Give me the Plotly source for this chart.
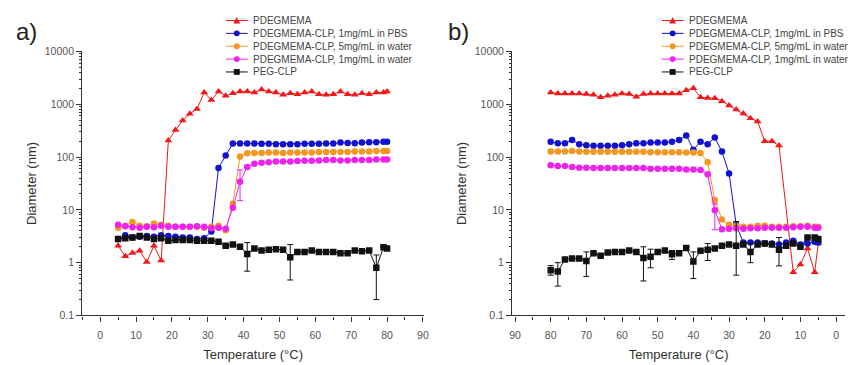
import plotly.graph_objects as go

# ---------------- data ----------------
temp_a = [5, 7, 9, 11, 13, 15, 17, 19, 21, 23, 25, 27, 29, 31, 33, 35, 37, 39, 41, 43,
          45, 47, 49, 51, 53, 55, 57, 59, 61, 63, 65, 67, 69, 71, 73, 75, 77, 79, 80]

pdegmema_a = [2.08, 1.33, 1.52, 1.68, 1.03, 2.08, 1.1, 205, 325, 490, 660, 815, 1670, 1200,
              1740, 1450, 1610, 1740, 1740, 1670, 1910, 1740, 1670, 1510, 1610, 1550, 1670,
              1740, 1550, 1510, 1550, 1740, 1550, 1510, 1610, 1550, 1670, 1670, 1740]
pbs1_a = [2.8, 3.3, 3.0, 3.1, 3.2, 3.1, 3.3, 3.2, 3.1, 3.0, 3.0, 2.8, 2.9, 3.9, 62, 107,
          180, 180, 180, 180, 178, 178, 175, 175, 175, 175, 178, 178, 178, 180, 180, 188,
          185, 183, 188, 190, 190, 195, 195]
water5_a = [4.6, 5.0, 5.9, 5.0, 4.9, 5.5, 5.2, 5.0, 4.8, 4.8, 4.8, 4.8, 4.6, 4.8, 5.0, 4.1,
            13, 103, 118, 120, 120, 122, 122, 120, 122, 122, 122, 122, 125, 125, 125, 125,
            125, 128, 128, 128, 130, 130, 130]
water1_a = [5.2, 4.9, 4.7, 4.6, 4.8, 4.7, 5.0, 4.8, 4.8, 4.8, 4.8, 4.9, 4.8, 4.5, 4.6, 4.4,
            11, 34, 65, 75, 78, 80, 82, 82, 82, 84, 85, 85, 86, 88, 88, 86, 86, 88, 88, 88,
            90, 90, 90]
pegclp_a = [2.8, 2.9, 3.0, 3.2, 3.0, 2.8, 2.9, 2.6, 2.7, 2.7, 2.7, 2.6, 2.6, 2.6, 2.5, 2.1,
            2.2, 2.0, 1.46, 1.86, 1.7, 1.75, 1.8, 1.75, 1.27, 1.6, 1.6, 1.7, 1.6, 1.6, 1.6,
            1.5, 1.5, 1.7, 1.65, 1.7, 0.8, 1.95, 1.85]
# error-bar bounds (upper / lower diameter), None = no bar
pegclp_a_hi = [None] * 18 + [2.4] + [None] * 5 + [2.2] + [None] * 11 + [1.4, None, None]
pegclp_a_lo = [None] * 18 + [0.69] + [None] * 5 + [0.47] + [None] * 11 + [0.2, None, None]
water1_a_hi = [None] * 17 + [57] + [None] * 21
water1_a_lo = [None] * 17 + [15] + [None] * 21

temp_b = [80, 78, 76, 74, 72, 70, 68, 66, 64, 62, 60, 58, 56, 54, 52, 50, 48, 46, 44, 42,
          40, 38, 36, 34, 32, 30, 28, 26, 24, 22, 20, 18, 16, 14, 12, 10, 8, 6, 5]

pdegmema_b = [1675, 1600, 1600, 1600, 1600, 1560, 1510, 1355, 1450, 1510, 1600, 1560, 1390,
              1560, 1600, 1600, 1600, 1600, 1600, 1845, 2000, 1355, 1316, 1300, 1145, 950,
              793, 670, 542, 471, 200, 200, 165, None, 0.66, 0.92, 1.86, 0.66, 2.3]
pbs1_b = [194, 183, 183, 211, 175, 168, 164, 164, 164, 164, 168, 175, 183, 183, 188, 188,
          188, 194, 211, 257, 138, 194, 175, 235, 127, 49, 5.2, 2.4, 2.4, 2.4, 2.3, 2.3, 2.2,
          2.4, 2.6, 2.2, 2.3, 2.5, 2.4]
water5_b = [128, 128, 128, 130, 128, 126, 126, 126, 126, 126, 126, 126, 126, 126, 124, 124,
            124, 124, 124, 122, 122, 120, 80, 15.4, 6.6, 5.2, 5.0, 4.8, 4.8, 5.0, 5.0, 4.8,
            4.8, 4.8, 4.9, 4.9, 5.0, 4.8, 4.8]
water1_b = [70, 68, 68, 65, 63, 63, 62, 62, 62, 62, 62, 62, 62, 62, 60, 60, 60, 60, 60, 58,
            58, 57, 47, 9.8, 4.3, 4.4, 4.5, 4.4, 4.5, 4.5, 4.6, 4.6, 4.6, 4.6, 4.7, 4.8, 4.8,
            4.6, 4.6]
pegclp_b = [0.72, 0.68, 1.15, 1.2, 1.2, 1.07, 1.5, 1.35, 1.55, 1.6, 1.6, 1.7, 1.6, 1.22, 1.3,
            1.6, 1.7, 1.45, 1.5, 1.9, 1.05, 1.68, 1.75, 1.85, 2.1, 2.2, 2.1, 2.2, 1.6, 2.2,
            2.3, 2.2, 1.75, 2.1, 2.3, 2.0, 3.0, 3.0, 2.8]
pegclp_b_hi = [0.88, 1.0, None, None, None, 1.6, None, None, None, None, None, None, None,
               2.0, 1.8, None, None, 1.7, None, None, 1.6, None, 2.3, None, None, None, 6.0,
               None, 2.3, None, None, None, 3.0, None, None, None, None, None, None]
pegclp_b_lo = [0.58, 0.36, None, None, None, 0.55, None, None, None, None, None, None, None,
               0.45, 0.8, None, None, 1.15, None, None, 0.5, None, 1.1, None, None, None,
               0.58, None, 1.0, None, None, None, 0.87, None, None, None, None, None, None]
water1_b_hi = [None] * 23 + [13] + [None] * 15
water1_b_lo = [None] * 23 + [4.2] + [None] * 15

series_names = ["PDEGMEMA", "PDEGMEMA-CLP, 1mg/mL in PBS", "PDEGMEMA-CLP, 5mg/mL in water",
                "PDEGMEMA-CLP, 1mg/mL in water", "PEG-CLP"]
y_tickvals = [0.1, 1, 10, 100, 1000, 10000]
y_ticktext = ["0.1", "1", "10", "100", "1000", "10000"]
panel_labels = ["a)", "b)"]

# ---------------- styling ----------------
colors = ["#f01818", "#1010d0", "#f5961e", "#f020f0", "#111111"]
symbols = ["triangle-up", "circle", "circle", "circle", "square"]
W, H = 850, 365
FONT = "Liberation Sans, Arial, sans-serif"


def err(vals, hi, lo):
    plus = [(h - v) if (h is not None and v is not None) else None for h, v in zip(hi, vals)]
    minus = [(v - l) if (l is not None and v is not None) else None for l, v in zip(lo, vals)]
    return dict(type="data", symmetric=False, array=plus, arrayminus=minus,
                thickness=1, width=3)


fig = go.Figure()
panels = [
    (temp_a, [pdegmema_a, pbs1_a, water5_a, water1_a, pegclp_a],
     [None, None, None, (water1_a_hi, water1_a_lo), (pegclp_a_hi, pegclp_a_lo)], "x", "y"),
    (temp_b, [pdegmema_b, pbs1_b, water5_b, water1_b, pegclp_b],
     [None, None, None, (water1_b_hi, water1_b_lo), (pegclp_b_hi, pegclp_b_lo)], "x2", "y2"),
]
for temps, ys, errs, xa, ya in panels:
    for i, (name, vals) in enumerate(zip(series_names, ys)):
        e = errs[i]
        ebar = err(vals, e[0], e[1]) if e else None
        if ebar:
            ebar["color"] = colors[i]
        fig.add_trace(go.Scatter(
            x=temps, y=vals, name=name, mode="lines+markers", xaxis=xa, yaxis=ya,
            showlegend=False, connectgaps=True,
            line=dict(color=colors[i], width=1),
            marker=dict(symbol=symbols[i], size=7 if i == 0 else 6.5, color=colors[i]),
            error_y=ebar,
        ))

# ---------------- compact custom legends (shapes + text) ----------------
def px(x):
    return x / W


def py(y):
    return 1 - y / H


shapes = []
annotations = []
for lx in (225, 665):
    for i, name in enumerate(series_names):
        yc = 15 + i * 13.3
        shapes.append(dict(type="line", xref="paper", yref="paper", x0=px(lx), x1=px(lx + 22),
                           y0=py(yc), y1=py(yc), line=dict(color=colors[i], width=1)))
        cx = lx + 11
        if symbols[i] == "circle":
            shapes.append(dict(type="circle", xref="paper", yref="paper",
                               x0=px(cx - 3), x1=px(cx + 3), y0=py(yc + 3), y1=py(yc - 3),
                               fillcolor=colors[i], line=dict(width=0)))
        elif symbols[i] == "square":
            shapes.append(dict(type="rect", xref="paper", yref="paper",
                               x0=px(cx - 3), x1=px(cx + 3), y0=py(yc + 3), y1=py(yc - 3),
                               fillcolor=colors[i], line=dict(width=0)))
        else:
            path = "M {:.5f} {:.5f} L {:.5f} {:.5f} L {:.5f} {:.5f} Z".format(
                px(cx - 3.5), py(yc + 3), px(cx + 3.5), py(yc + 3), px(cx), py(yc - 3.5))
            shapes.append(dict(type="path", xref="paper", yref="paper", path=path,
                               fillcolor=colors[i], line=dict(width=0)))
        annotations.append(dict(text=name, x=px(lx + 25), y=py(yc), xref="paper", yref="paper",
                                xanchor="left", yanchor="middle", showarrow=False,
                                font=dict(family=FONT, size=10, color="#444")))

for lbl, lx in zip(panel_labels, (11, 447)):
    annotations.append(dict(text=lbl, x=px(lx), y=py(26), xref="paper", yref="paper",
                            xanchor="left", yanchor="middle", showarrow=False,
                            font=dict(family=FONT, size=24, color="#222")))

ydom = [(H - 320) / H, (H - 47) / H]
axis_common = dict(showline=True, linecolor="#333", linewidth=1.3, ticks="outside",
                   ticklen=5, tickcolor="#333", tickwidth=1, showgrid=False, zeroline=False,
                   tickfont=dict(family=FONT, size=10.5, color="#555"),
                   title_font=dict(family=FONT, size=13, color="#333"))
xcommon = dict(axis_common, dtick=10, tick0=0, ticklabelstandoff=5,
               minor=dict(dtick=5, ticks="outside", ticklen=3, tickcolor="#333"),
               title_text="Temperature (°C)", title_standoff=9)
ycommon = dict(axis_common, type="log", range=[-1, 4], tickvals=y_tickvals, ticktext=y_ticktext,
               minor=dict(dtick="D1", ticks="outside", ticklen=2, tickcolor="#333"),
               title_text="Diameter (nm)", title_standoff=5)

fig.update_layout(
    width=W, height=H, margin=dict(l=0, r=0, t=0, b=0),
    paper_bgcolor="white", plot_bgcolor="white", showlegend=False,
    xaxis=dict(xcommon, domain=[80 / W, 425 / W], range=[-5, 90.3], anchor="y"),
    yaxis=dict(ycommon, domain=ydom, anchor="x"),
    xaxis2=dict(xcommon, domain=[514 / W, 1.0], range=[90.8, -2.5], anchor="y2"),
    yaxis2=dict(ycommon, domain=ydom, anchor="x2"),
    shapes=shapes,
    annotations=annotations,
)

fig.write_html("out.html", config={"displayModeBar": False},
               post_script="document.body.style.margin='0';")
